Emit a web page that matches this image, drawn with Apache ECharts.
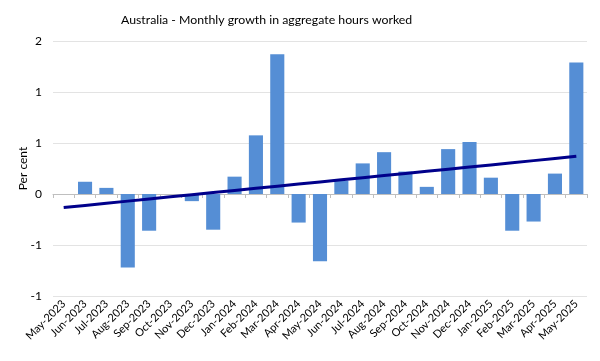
<!DOCTYPE html>
<html>
<head>
<meta charset="utf-8">
<script src="https://cdn.jsdelivr.net/npm/echarts@6/dist/echarts.min.js"></script>
<style>html,body{margin:0;padding:0;background:#fff}#c{width:600px;height:361px}</style>
</head>
<body>
<div id="c"></div>
<script>
const categories = ["May-2023","Jun-2023","Jul-2023","Aug-2023","Sep-2023","Oct-2023","Nov-2023","Dec-2023","Jan-2024","Feb-2024","Mar-2024","Apr-2024","May-2024","Jun-2024","Jul-2024","Aug-2024","Sep-2024","Oct-2024","Nov-2024","Dec-2024","Jan-2025","Feb-2025","Mar-2025","Apr-2025","May-2025"];
const growth = [0, 0.12, 0.06, -0.72, -0.36, 0, -0.07, -0.35, 0.17, 0.575, 1.37, -0.28, -0.66, 0.13, 0.30, 0.41, 0.22, 0.07, 0.44, 0.51, 0.16, -0.36, -0.27, 0.20, 1.29];
const yMin = -1, yMax = 1.5, yStep = 0.5;

// Linear trend (least squares) of the series
const n = growth.length;
const xm = (n - 1) / 2;
const ym = growth.reduce((a, b) => a + b, 0) / n;
let sxy = 0, sxx = 0;
growth.forEach((v, i) => { sxy += (i - xm) * (v - ym); sxx += (i - xm) * (i - xm); });
const slope = sxy / sxx;
const trend = growth.map((v, i) => +(ym + slope * (i - xm)).toFixed(4));

const fmt = v => { const r = Math.round(Math.abs(v)) * Math.sign(v); return r === 0 ? '0' : String(r); };

const chart = echarts.init(document.getElementById('c'));
chart.setOption({
  animation: false,
  title: {
    text: 'Australia - Monthly growth in aggregate hours worked',
    left: 116, top: 9,
    textStyle: { fontFamily: 'Lato', fontSize: 12.3, fontWeight: 'normal', color: '#000' }
  },
  grid: { left: 53, right: 13, top: 41, bottom: 65 },
  xAxis: {
    type: 'category', data: categories,
    axisLine: { lineStyle: { color: '#bfbfbf' } },
    axisTick: { show: true, lineStyle: { color: '#bfbfbf' }, length: 4 },
    axisLabel: { rotate: 45, interval: 0, fontFamily: 'Lato', fontSize: 11, color: '#000', margin: 6 }
  },
  yAxis: {
    type: 'value', min: yMin, max: yMax, interval: yStep,
    name: 'Per cent', nameLocation: 'middle', nameGap: 24, nameMoveOverlap: false,
    nameTextStyle: { fontFamily: 'Lato', fontSize: 12, color: '#000' },
    axisLine: { show: false }, axisTick: { show: false },
    axisLabel: { formatter: fmt, fontFamily: 'Lato', fontSize: 12, color: '#000', margin: 11 },
    splitLine: { lineStyle: { color: '#e3e3e3' } }
  },
  series: [
    { type: 'bar', data: growth, barCategoryGap: '34%', itemStyle: { color: '#558ed5' } },
    { type: 'line', data: trend, symbol: 'none', lineStyle: { color: '#00008b', width: 3 }, z: 5 }
  ]
});
</script>
</body>
</html>
